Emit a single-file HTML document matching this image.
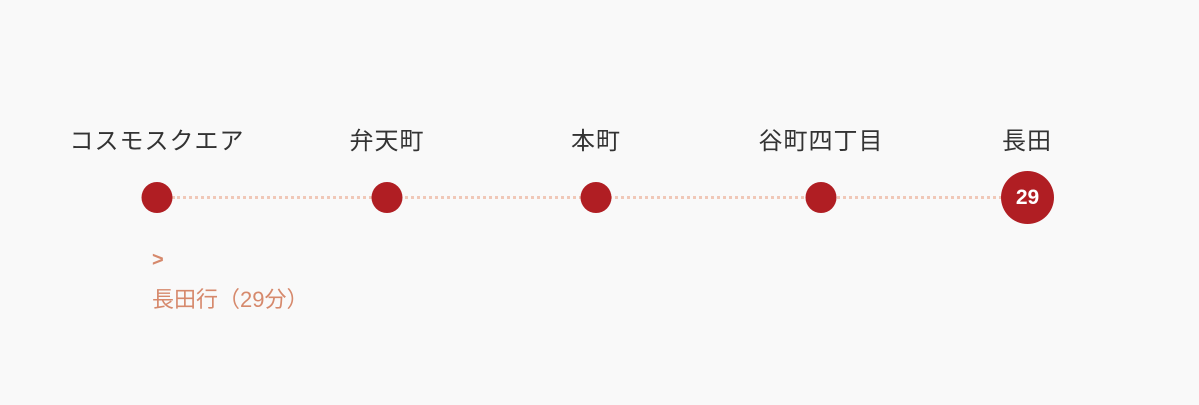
<!DOCTYPE html>
<html><head><meta charset="utf-8"><style>
html,body{margin:0;padding:0;width:1199px;height:405px;background:#f9f9f9;overflow:hidden}
body{position:relative;font-family:"Liberation Sans","Noto Sans CJK JP",sans-serif}
.lbl{position:absolute;top:126px;font-size:24px;letter-spacing:1px;color:#333;transform:translateX(-50%);white-space:nowrap;line-height:32px}
.dot{position:absolute;top:182px;width:31px;height:31px;border-radius:50%;background:#b01e23;transform:translateX(-50%)}
.line{position:absolute;left:172px;width:830px;top:196px;border-top:3px dotted #f0c8b8}
.end{position:absolute;left:1001px;top:171px;width:53px;height:53px;border-radius:50%;background:#b01e23;color:#fff;font-weight:bold;font-size:21px;line-height:53px;text-align:center}
.or{position:absolute;left:152px;color:#d6896c;font-size:22px;white-space:nowrap}
</style></head><body>
<div class="line"></div>
<div class="lbl" style="left:157px">コスモスクエア</div>
<div class="lbl" style="left:387px">弁天町</div>
<div class="lbl" style="left:596px">本町</div>
<div class="lbl" style="left:821px">谷町四丁目</div>
<div class="lbl" style="left:1027px">長田</div>
<div class="dot" style="left:157px"></div>
<div class="dot" style="left:387px"></div>
<div class="dot" style="left:596px"></div>
<div class="dot" style="left:821px"></div>
<div class="end">29</div>
<div class="or" style="top:249px;font-weight:bold;font-size:20px">&gt;</div>
<div class="or" style="top:282px">長田行（29分）</div>
</body></html>
